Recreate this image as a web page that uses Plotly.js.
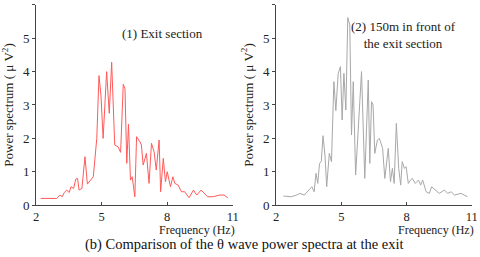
<!DOCTYPE html>
<html><head><meta charset="utf-8">
<script src="https://cdn.plot.ly/plotly-3.0.1.min.js"></script>
<style>html,body{margin:0;padding:0;background:#fff}#c{width:480px;height:257px}</style>
</head><body><div id="c"></div>
<script>
const exitFreq = [2.21,2.5,2.8,2.95,3.1,3.2,3.3,3.4,3.52,3.6,3.72,3.82,3.9,3.97,4.1,4.24,4.35,4.5,4.62,4.78,4.88,4.97,5.07,5.23,5.35,5.46,5.6,5.75,5.87,5.99,6.07,6.15,6.23,6.32,6.4,6.52,6.6,6.75,6.82,6.9,7.05,7.17,7.28,7.4,7.5,7.63,7.7,7.82,7.92,8.0,8.15,8.26,8.35,8.5,8.65,8.8,9.0,9.2,9.35,9.55,9.7,9.85,10.1,10.4,10.6,10.77];
const exitPower = [0.2,0.2,0.21,0.2,0.3,0.25,0.38,0.45,0.38,0.55,0.5,0.78,0.8,0.45,0.5,1.45,0.63,0.75,0.85,2.0,3.88,3.3,2.0,4.0,2.75,4.28,1.8,1.75,1.58,3.62,3.48,1.25,2.42,0.75,0.85,0.25,2.05,1.9,1.8,1.2,1.55,0.65,1.85,1.6,1.05,1.95,0.4,1.4,0.7,1.0,0.55,0.85,0.65,0.6,0.4,0.4,0.22,0.45,0.3,0.45,0.35,0.25,0.25,0.3,0.3,0.22];
const frontFreq = [2.34,2.5,2.7,2.95,3.1,3.3,3.5,3.65,3.75,3.84,3.92,4.0,4.08,4.16,4.25,4.33,4.45,4.55,4.66,4.75,4.86,4.96,5.04,5.12,5.21,5.3,5.39,5.47,5.55,5.66,5.93,6.08,6.24,6.31,6.39,6.46,6.54,6.66,6.75,6.9,7.0,7.16,7.26,7.35,7.43,7.53,7.64,7.73,7.8,7.9,7.98,8.08,8.18,8.26,8.4,8.55,8.65,8.74,8.9,9.05,9.15,9.35,9.5,9.74,9.89,10.05,10.2,10.5,10.8];
const frontPower = [0.27,0.27,0.25,0.3,0.35,0.3,0.45,0.55,0.4,0.95,0.65,1.25,1.3,2.08,1.5,0.55,1.55,1.3,3.7,2.83,3.95,4.15,2.55,3.95,2.85,5.62,5.4,2.1,3.7,0.9,4.0,0.8,3.75,1.25,3.1,3.0,1.55,1.95,2.0,1.7,0.8,1.7,0.7,1.1,0.65,2.45,1.1,0.6,1.3,1.1,1.15,0.65,0.75,0.8,0.65,0.75,0.6,0.75,0.4,0.35,0.55,0.45,0.35,0.45,0.35,0.4,0.3,0.35,0.25];
const xTicks = [2,5,8,11];
const yTicks = [0,1,2,3,4,5,6];

const F = "Liberation Serif";
const xa = d => ({domain:d, range:[2,11], tickvals:xTicks, ticktext:xTicks.map(String), showgrid:false, zeroline:false,
  showline:true, linecolor:'#444', linewidth:1, ticks:'inside', ticklen:3, tickcolor:'#444',
  tickfont:{family:F,size:12.5,color:'#222'}, fixedrange:true});
const ya = (anchor) => ({domain:[0.202,0.981], range:[0,6], tickvals:yTicks, showgrid:false, zeroline:false, anchor:anchor,
  showline:true, linecolor:'#444', linewidth:1, ticks:'outside', ticklen:3, tickcolor:'#444',
  tickfont:{family:F,size:13,color:'#222'},
  title:{text:'Power spectrum ( μ V<sup>2</sup>)', font:{family:F,size:13,color:'#222'}, standoff:6}});

const data = [
  {x:exitFreq, y:exitPower, type:'scatter', mode:'lines', line:{color:'#ff5a5a', width:1}, xaxis:'x', yaxis:'y', hoverinfo:'skip'},
  {x:frontFreq, y:frontPower, type:'scatter', mode:'lines', line:{color:'#a8a8a8', width:1}, xaxis:'x2', yaxis:'y2', hoverinfo:'skip'}
];
const layout = {
  width:480, height:257, margin:{l:0,r:0,t:0,b:0}, showlegend:false,
  font:{family:F, color:'#222'},
  paper_bgcolor:'#fff', plot_bgcolor:'#fff',
  xaxis:xa([0.075,0.485]), yaxis:ya('x'),
  xaxis2:Object.assign(xa([0.575,0.983]), {anchor:'y2'}), yaxis2:ya('x2'),
  annotations:[
    {text:'(1) Exit section', xref:'paper', yref:'paper', x:162/480, y:1-34/257, xanchor:'center', yanchor:'middle', showarrow:false, font:{family:F,size:13,color:'#222'}},
    {text:'(2) 150m in front of<br>the exit section', xref:'paper', yref:'paper', x:403/480, y:1-35/257, xanchor:'center', yanchor:'middle', showarrow:false, font:{family:F,size:13,color:'#222'}},
    {text:'Frequency (Hz)', xref:'paper', yref:'paper', x:237/480, y:1-229.5/257, xanchor:'right', yanchor:'middle', showarrow:false, font:{family:F,size:12,color:'#222'}},
    {text:'Frequency (Hz)', xref:'paper', yref:'paper', x:476/480, y:1-229.5/257, xanchor:'right', yanchor:'middle', showarrow:false, font:{family:F,size:12,color:'#222'}},
    {text:'(b) Comparison of the θ wave power spectra at the exit', xref:'paper', yref:'paper', x:245/480, y:1-244.5/257, xanchor:'center', yanchor:'middle', showarrow:false, font:{family:F,size:14.5,color:'#111'}}
  ]
};
Plotly.newPlot('c', data, layout, {staticPlot:true, displayModeBar:false});
</script></body></html>
